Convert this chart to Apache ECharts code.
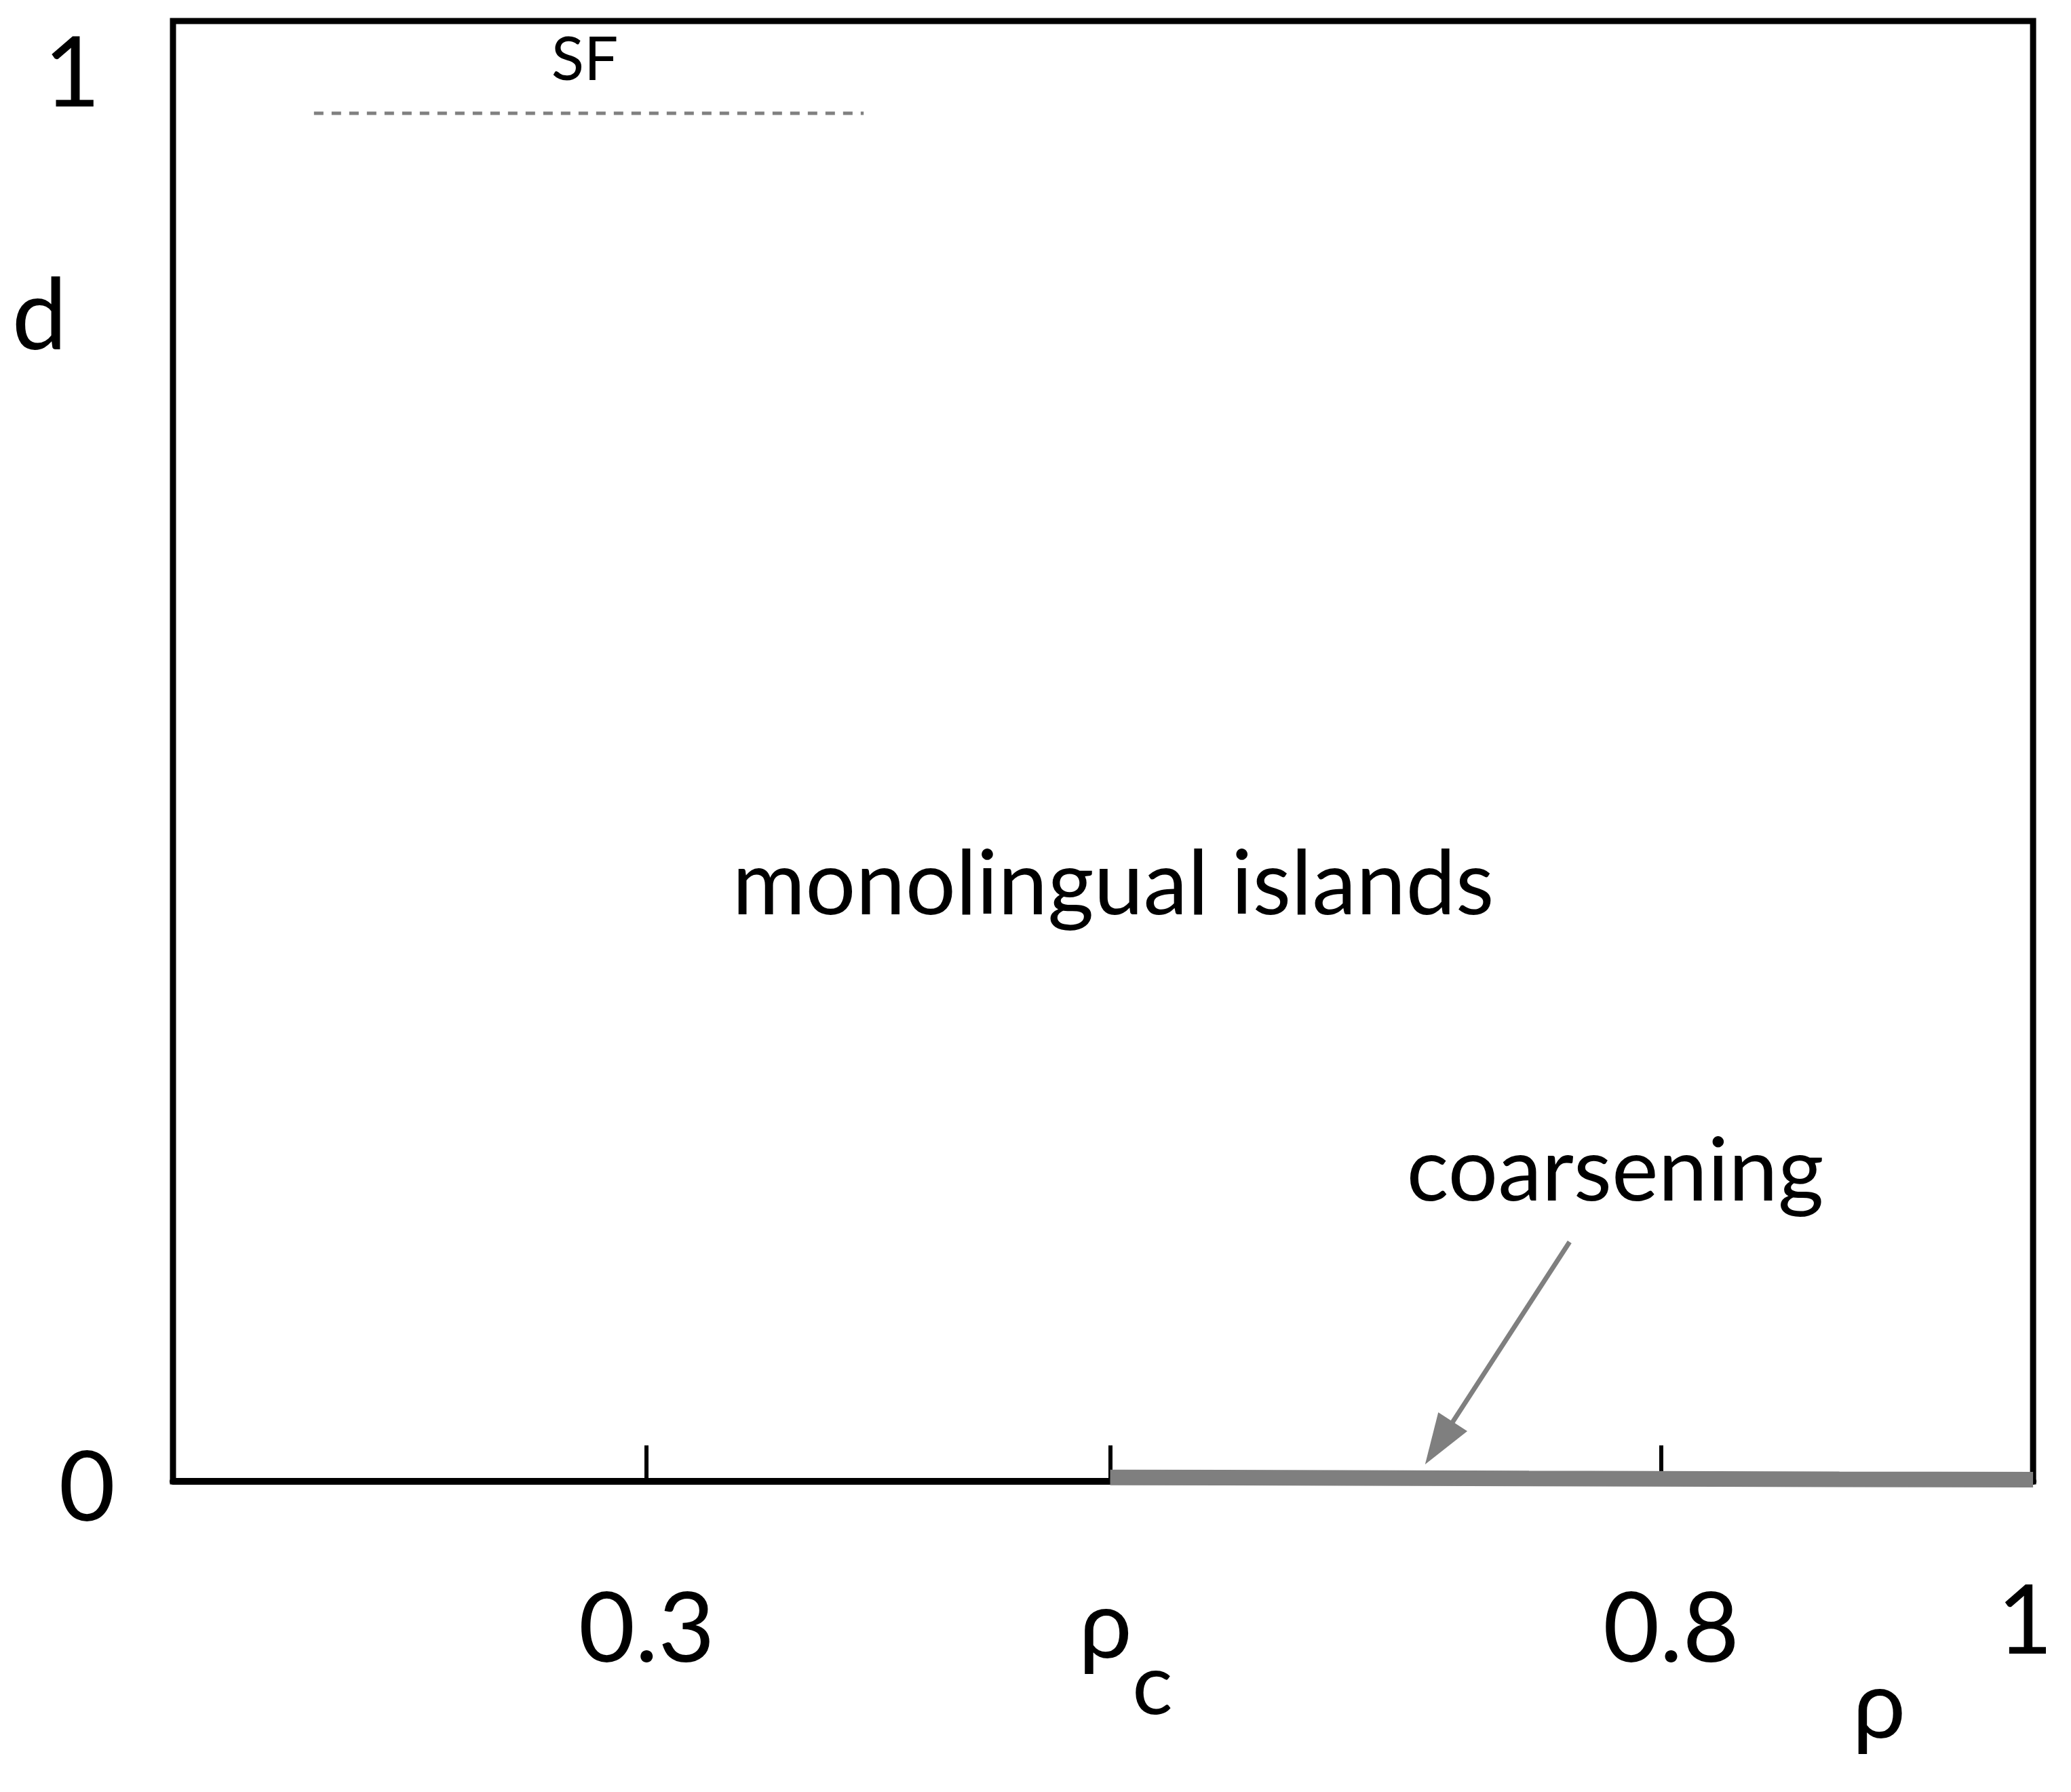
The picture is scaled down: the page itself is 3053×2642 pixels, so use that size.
<!DOCTYPE html>
<html>
<head>
<meta charset="utf-8">
<script src="https://cdn.jsdelivr.net/npm/echarts@6/dist/echarts.min.js"></script>
<style>
html,body{margin:0;padding:0;background:#fff;}
#chart{width:3053px;height:2642px;}
</style>
</head>
<body>
<div id="chart"></div>
<script>
// ---- data ----
const xMin = 0.0665;
const xMax = 0.9835;           // right edge of the frame (labelled "1")
const yMin = 0;
const yMax = 1.0386;
const rhoC = 0.5285;
const xTickValues = [0.3, rhoC, 0.8];
const xLabelValues = [0.3, rhoC, 0.8, xMax];
const xLabelTexts = ['0.3', 'ρc', '0.8', '1'];
const yLabelValues = [0, 1];
const yLabelTexts = ['0', '1'];
// coarsening line (rho, d)
const coarseningRho = [0.5285, 0.585, 0.735, 0.888, 0.9835];
const coarseningD   = [0.0028, 0.0026, 0.0020, 0.0014, 0.0012];
// SF dashed line
const sfRho = [0.136, 0.407];
const sfD   = [0.973, 0.973];
// arrow pointing to coarsening line
const arrowFrom = [0.755, 0.1703];
const arrowHead = [0.6906, 0.0272];

const FONT = 'Lato';
const chart = echarts.init(document.getElementById('chart'), null, {renderer:'canvas', devicePixelRatio:1});

const coarseningData = coarseningRho.map((r,i)=>[r, coarseningD[i]]);
const sfData = sfRho.map((r,i)=>[r, sfD[i]]);

function xLabelFormatter(v){
  const i = xLabelValues.findIndex(x => Math.abs(x - v) < 1e-9);
  if (i < 0) return '';
  if (Math.abs(v - rhoC) < 1e-9) return '{rho|ρ}{sub|c}';
  if (Math.abs(v - xMax) < 1e-9) return '{one|' + xLabelTexts[i] + '}';
  if (Math.abs(v - 0.8) < 1e-9) return '{numR|' + xLabelTexts[i] + '}';
  return '{num|' + xLabelTexts[i] + '}';
}
function yLabelFormatter(v){
  const i = yLabelValues.indexOf(v);
  if (i < 0) return '';
  return (v === 0 ? '{zero|' : '{one|') + yLabelTexts[i] + '}';
}

chart.setOption({
  animation:false,
  backgroundColor:'#ffffff',
  grid:{left:255, right:45, top:31, bottom:458, show:true, borderColor:'#000', borderWidth:9, backgroundColor:'transparent'},
  xAxis:{
    type:'value', min:xMin, max:xMax,
    axisLine:{show:true, onZero:false, lineStyle:{color:'#000', width:10}},
    axisTick:{show:true, inside:true, length:53, customValues:xTickValues, lineStyle:{color:'#000', width:6}},
    splitLine:{show:false},
    axisLabel:{
      show:true, customValues:xLabelValues, margin:145, formatter:xLabelFormatter,
      color:'#000', fontFamily:FONT,
      rich:{
        num:{fontSize:144, lineHeight:150, fontFamily:FONT, color:'#000'},
        numR:{fontSize:144, lineHeight:150, fontFamily:FONT, color:'#000', padding:[0,0,0,30]},
        one:{fontSize:141, lineHeight:128, fontFamily:FONT, color:'#000', padding:[0,24,0,0]},
        rho:{fontSize:140, lineHeight:144, verticalAlign:'top', fontFamily:FONT, color:'#000', padding:[0,0,0,46]},
        sub:{fontSize:125, lineHeight:316, verticalAlign:'middle', fontFamily:FONT, color:'#000'}
      }
    }
  },
  yAxis:{
    type:'value', min:yMin, max:yMax,
    axisLine:{show:false},
    axisTick:{show:false},
    splitLine:{show:false},
    axisLabel:{
      show:true, customValues:yLabelValues, margin:85, formatter:yLabelFormatter,
      fontSize:144, fontFamily:FONT, color:'#000',
      rich:{
        zero:{fontSize:144, fontFamily:FONT, color:'#000', padding:[24,0,0,0]},
        one:{fontSize:144, fontFamily:FONT, color:'#000', padding:[0,22,0,0]}
      }
    }
  },
  series:[
    {
      type:'line', name:'coarsening', data:coarseningData, symbol:'none', clip:false,
      lineStyle:{color:'#7f7f7f', width:23, cap:'butt'}, z:5, silent:true
    },
    {
      type:'line', name:'SF', data:sfData, symbol:'none', clip:false,
      lineStyle:{color:'#808080', width:5, type:[14,12]}, z:5, silent:true
    },
    {
      type:'line', name:'arrow', data:[], symbol:'none', silent:true,
      markLine:{
        silent:true, animation:false,
        symbol:['none','triangle'], symbolSize:[51,75],
        label:{show:false},
        emphasis:{disabled:true},
        lineStyle:{color:'#7f7f7f', width:7, type:'solid'},
        data:[[{coord:arrowFrom},{coord:arrowHead}]]
      }
    }
  ],
  graphic:[
    {type:'text', silent:true, style:{text:'d', x:58, y:468, align:'center', verticalAlign:'middle', fontSize:145, fontFamily:FONT, fill:'#000'}},
    {type:'text', silent:true, style:{text:'ρ', x:2770, y:2517, align:'center', verticalAlign:'middle', fontSize:140, fontFamily:FONT, fill:'#000'}},
    {type:'text', silent:true, style:{text:'SF', x:862, y:89, align:'center', verticalAlign:'middle', fontSize:89, fontFamily:FONT, fill:'#000'}},
    {type:'text', silent:true, style:{text:'monolingual islands', x:1641, y:1306, align:'center', verticalAlign:'middle', fontSize:131, fontFamily:FONT, fill:'#000'}},
    {type:'text', silent:true, style:{text:'coarsening', x:2381, y:1728, align:'center', verticalAlign:'middle', fontSize:130, fontFamily:FONT, fill:'#000'}}
  ]
});
</script>
</body>
</html>
